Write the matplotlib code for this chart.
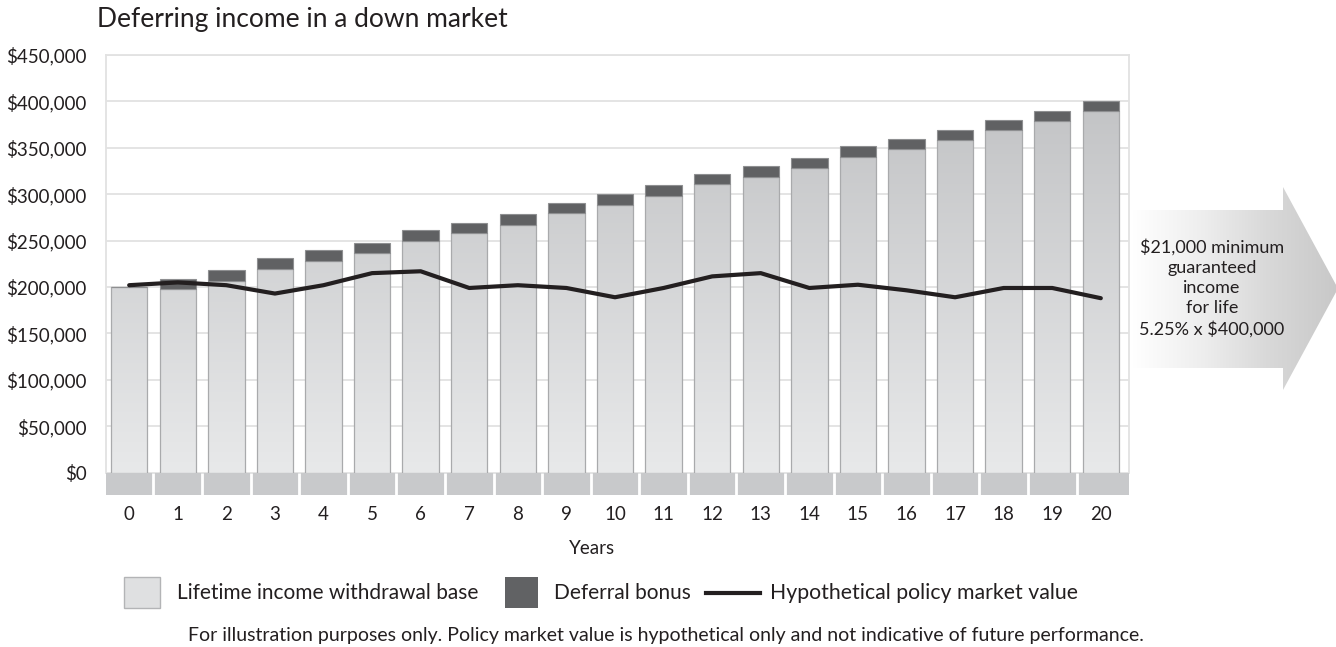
import numpy as np
import matplotlib.pyplot as plt
from matplotlib.colors import LinearSegmentedColormap
from matplotlib.patches import Polygon, Rectangle
from matplotlib.lines import Line2D

plt.rcParams['font.family'] = ['Lato', 'DejaVu Sans']

years = list(range(21))
withdrawal_base = [200000, 198000, 207000, 219500, 228000, 237000, 250000,
                   258000, 267000, 280000, 288500, 298000, 310500, 319000,
                   328000, 340500, 349000, 358000, 369000, 378500, 389500]
deferral_bonus = [0, 11000, 11500, 11500, 11500, 11000, 11000,
                  11500, 11500, 11000, 11500, 11500, 11500, 11500,
                  11500, 11500, 11000, 11500, 11500, 11500, 10500]
market_value = [202000, 205000, 202000, 193000, 202000, 215000, 217000,
                199000, 202000, 199000, 189000, 199000, 211500, 215000,
                199000, 202500, 196500, 189000, 199000, 199000, 188000]
y_ticks = list(range(0, 450001, 50000))
y_labels = ['$0' if v == 0 else f'${v:,}' for v in y_ticks]

legend_labels = ['Lifetime income withdrawal base', 'Deferral bonus',
                 'Hypothetical policy market value']
callout = '$21,000 minimum\nguaranteed\nincome\nfor life\n5.25% x $400,000'

TEXT = '#231f20'
W, H = 1336, 647


def px_box(x0, y0, x1, y1):
    """Figure-fraction rect from pixel corners (top-left origin)."""
    return [x0 / W, 1 - y1 / H, (x1 - x0) / W, (y1 - y0) / H]


fig = plt.figure(figsize=(W / 100, H / 100), dpi=100)

# overlay in pixel units for the titles, legend and arrow callout
ov = fig.add_axes([0, 0, 1, 1], zorder=0)
ov.set_xlim(0, W)
ov.set_ylim(H, 0)
ov.axis('off')

ax = fig.add_axes(px_box(106, 55, 1129, 472.7), zorder=1)
strip = fig.add_axes(px_box(106, 472.7, 1129, 495), zorder=1, sharex=ax)

# bars: vertical gradient clipped to each bar
bar_cmap = LinearSegmentedColormap.from_list('bar', ['#e8e9ea', '#c0c1c3'])
grad = np.linspace(0, 1, 256).reshape(-1, 1)
bars = ax.bar(years, withdrawal_base, width=0.75, facecolor='none',
              edgecolor='#a9aaac', linewidth=0.9, zorder=3)
for b in bars:
    im = ax.imshow(grad, extent=(-0.6, 20.7, 0, 430000), origin='lower',
                   aspect='auto', cmap=bar_cmap, zorder=2)
    im.set_clip_path(b)

ax.bar(years, deferral_bonus, bottom=withdrawal_base, width=0.75,
       color='#606163', edgecolor='#8e8f91', linewidth=0.8, zorder=3)

ax.plot(years, market_value, color=TEXT, lw=3, zorder=5,
        solid_capstyle='round', solid_joinstyle='round')

ax.set_xlim(-0.477, 20.58)
ax.set_ylim(0, 450000)
ax.set_yticks(y_ticks)
ax.set_yticklabels(y_labels)
ax.grid(axis='y', color='#e2e2e2', lw=1.3, zorder=0)
ax.set_axisbelow(True)
ax.tick_params(axis='y', length=0, pad=14, labelsize=13.5, labelcolor=TEXT)
ax.tick_params(axis='x', length=0, labelbottom=False)
for side in ['left', 'right', 'top']:
    ax.spines[side].set_color('#e2e2e2')
    ax.spines[side].set_linewidth(1.3)
ax.spines['bottom'].set_visible(False)

# category strip under the bars
strip.set_facecolor('#c8c9cb')
strip.vlines(np.array(years[:-1]) + 0.5, 0, 1, color='white', lw=2)
strip.set_ylim(0, 1)
strip.set_yticks([])
strip.set_xticks(years)
strip.set_xticklabels([str(y) for y in years])
strip.tick_params(axis='x', length=0, pad=8, labelsize=13.5, labelcolor=TEXT)
for s in strip.spines.values():
    s.set_visible(False)

fig.text(97 / W, 1 - 20 / H, 'Deferring income in a down market',
         fontsize=19, color=TEXT, va='center', ha='left')
fig.text(592 / W, 1 - 549 / H, 'Years', fontsize=13.5, color=TEXT,
         ha='center', va='center')

# arrow callout with a left-to-right fade
arrow = Polygon([(1133, 210), (1283, 210), (1283, 187), (1338, 288.5),
                 (1283, 390), (1283, 368), (1133, 368)],
                closed=True, facecolor='none', edgecolor='none')
ov.add_patch(arrow)
arrow_cmap = LinearSegmentedColormap.from_list(
    'arrow', ['#ffffff', '#eeeeee', '#d8d8d8', '#c8c8c8'])
aim = ov.imshow(np.linspace(0, 1, 256).reshape(1, -1),
                extent=(1133, 1338, 390, 187), aspect='auto',
                cmap=arrow_cmap, zorder=1)
aim.set_clip_path(arrow)
ov.set_xlim(0, W)
ov.set_ylim(H, 0)
ov.text(1212, 288, callout, fontsize=13, color=TEXT, ha='center',
        va='center', linespacing=1.33, zorder=3)

# legend
ov.add_patch(Rectangle((124, 577), 36, 31, facecolor='#dfe0e1',
                       edgecolor='#b3b4b6', lw=1))
ov.text(177, 593, legend_labels[0], fontsize=15, color=TEXT, va='center')
ov.add_patch(Rectangle((505, 577), 33, 31, facecolor='#616264',
                       edgecolor='none'))
ov.text(554, 593, legend_labels[1], fontsize=15, color=TEXT, va='center')
ov.add_line(Line2D([706, 760], [593, 593], color=TEXT, lw=3))
ov.text(770, 593, legend_labels[2], fontsize=15.3, color=TEXT, va='center')

ov.text(666, 636, 'For illustration purposes only. Policy market value is '
        'hypothetical only and not indicative of future performance.',
        fontsize=14, color=TEXT, ha='center', va='center')

fig.savefig('out.png', dpi=100)
